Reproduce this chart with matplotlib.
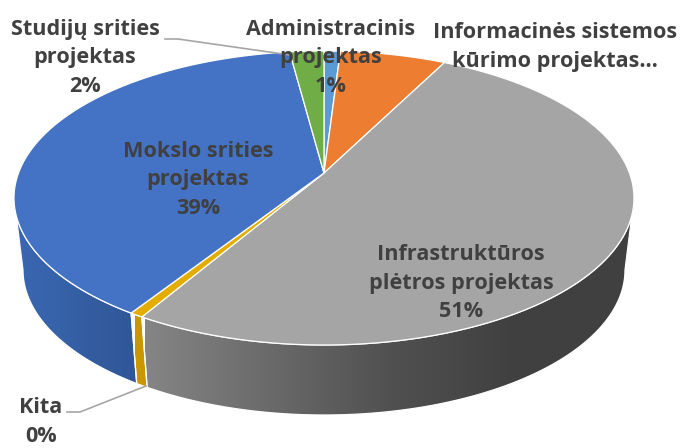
import numpy as np
import matplotlib
matplotlib.use('Agg')
import matplotlib.pyplot as plt
from matplotlib.colors import LinearSegmentedColormap
from matplotlib.patches import Polygon

# values clockwise from the top of the pie
kategorijos = ['Administracinis', 'Informacines', 'Infrastrukturos', 'Kita', 'Mokslo', 'Studiju']
reiksmes = [1.0, 6.5, 51.0, 0.6, 38.8, 2.1]
spalvos = ['#5B9BD5', '#ED7D31', '#A5A5A5', '#E5AC00', '#4472C4', '#70AD47']
sonu_spalvos = [None, None,
                ['#858585', '#6a6a6a', '#505050', '#404040', '#404040'],
                ['#C99700', '#C99700'],
                ['#3B67B4', '#3763AA', '#335B9E', '#2F5597'],
                None]
sonu_ribos = [None, None, (145, 640), (135, 150), (10, 145), None]

# pie geometry in pixels
CX, CY = 324, 198
RX, RY = 310, 147
RX2, RY2, CY2 = 301, 145, 270
D = 0.17   # the apex sits above the ellipse centre (perspective)

plt.rcParams['font.family'] = ['Open Sans', 'DejaVu Sans']

fig = plt.figure(figsize=(6.81, 4.48), dpi=100)
ax = fig.add_axes([0, 0, 1, 1])
ax.set_xlim(0, 681)
ax.set_ylim(448, 0)
ax.axis('off')


def rim(kampai):
    # angles in degrees clockwise from top -> normalized ellipse coordinates
    t = np.radians(kampai)
    x, y = np.sin(t), np.cos(t)
    k = 1 + D * y
    return x * np.sqrt(1 - D ** 2) / k, (y + D) / k


ribos = np.concatenate([[0], np.cumsum(reiksmes)]) / sum(reiksmes) * 360
kampas_sonas = 90 + np.degrees(np.arcsin(D))

# side walls
for i in range(len(reiksmes)):
    if sonu_spalvos[i] is None:
        continue
    a = max(ribos[i], kampas_sonas)
    b = min(ribos[i + 1], 360 - kampas_sonas)
    kampai = np.linspace(a, b, 100)
    x, y = rim(kampai)
    virsus = np.column_stack([CX + RX * x, CY - RY * y])
    apacia = np.column_stack([CX + RX2 * x, CY2 - RY2 * y])
    siena = np.vstack([virsus, apacia[::-1]])
    cmap = LinearSegmentedColormap.from_list('s', sonu_spalvos[i])
    x0, x1 = sonu_ribos[i]
    img = ax.imshow(np.linspace(0, 1, 256)[None, :], cmap=cmap, aspect='auto',
                    extent=(x0, x1, 430, 180), zorder=2)
    img.set_clip_path(Polygon(siena, transform=ax.transData))
    ax.add_patch(Polygon(siena, closed=True, fill=False, edgecolor='white', linewidth=0.9, zorder=3))
ax.set_xlim(0, 681)
ax.set_ylim(448, 0)

# top face
for i in range(len(reiksmes)):
    kampai = np.linspace(ribos[i], ribos[i + 1], 100)
    x, y = rim(kampai)
    px = np.concatenate([[CX], CX + RX * x])
    py = np.concatenate([[CY - RY * D], CY - RY * y])
    ax.fill(px, py, facecolor=spalvos[i], edgecolor='white', linewidth=0.9, zorder=4)

# leader lines
ax.plot([165, 178, 290], [39, 39, 55], color='#A6A6A6', linewidth=1.2, zorder=5)
ax.plot([67, 80, 146], [412, 412, 386], color='#A6A6A6', linewidth=1.2, zorder=5)

# labels
tekstai = [
    ('Administracinis\nprojektas\n1%', 331, 58),
    ('Informacinės sistemos\nkūrimo projektas…', 555, 47),
    ('Infrastruktūros\nplėtros projektas\n51%', 461, 283),
    ('Mokslo srities\nprojektas\n39%', 198, 180),
    ('Studijų srities\nprojektas\n2%', 85, 58),
    ('Kita\n0%', 41, 422),
]
for tekstas, x, y in tekstai:
    ax.text(x, y, tekstas, ha='center', va='center', fontsize=15.6, fontweight='bold', color='#404040',
            linespacing=1.45, zorder=6)

fig.savefig('out.png', dpi=100)
